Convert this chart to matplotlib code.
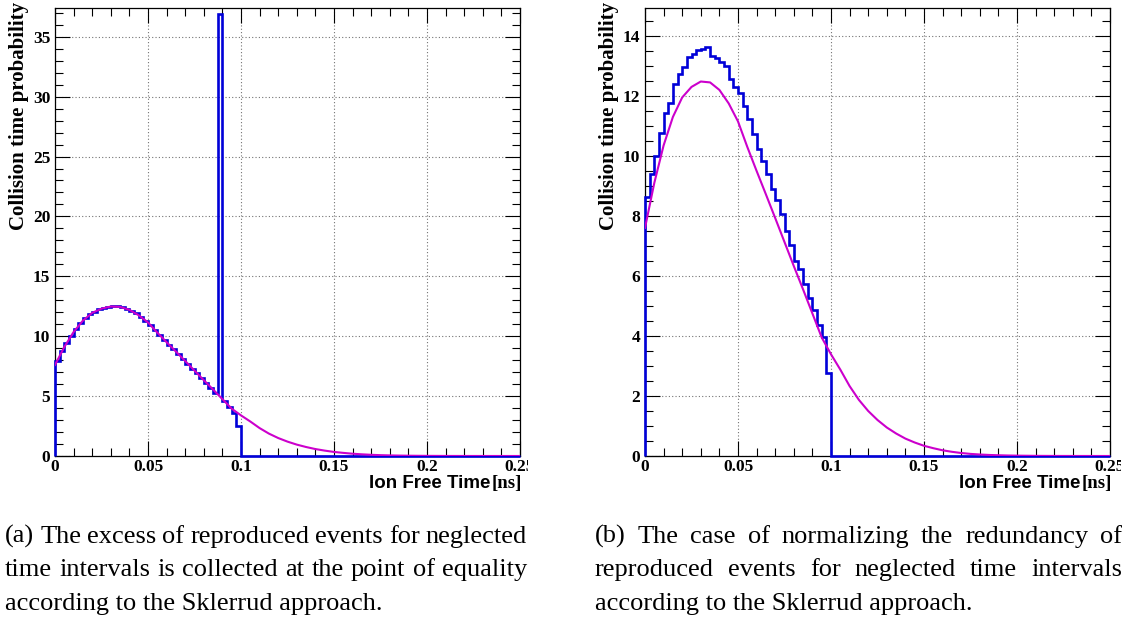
"""Collision time probability of the ion free time, two normalisation schemes side by side."""

import matplotlib

matplotlib.use("Agg")
import matplotlib.pyplot as plt
import numpy as np
from matplotlib.ticker import FixedLocator, MultipleLocator
from matplotlib.transforms import Bbox, TransformedBbox

W, H = 1128, 624
BIN_WIDTH = 0.0025  # ns
N_BINS = 100

# (a) excess collected at the equality point (spike bin at 0.0875-0.09 ns)
HIST_A = [7.95, 8.75, 9.4, 10.05, 10.6, 11.1, 11.5, 11.85, 12.05, 12.25,
          12.35, 12.45, 12.5, 12.55, 12.4, 12.3, 12.1, 11.9, 11.6, 11.3,
          10.95, 10.55, 10.1, 9.7, 9.3, 8.9, 8.5, 8.1, 7.7, 7.3,
          6.9, 6.5, 6.1, 5.7, 5.3, 36.9, 4.55, 4.1, 3.6, 2.5]
# (b) redundancy normalised over the whole range
HIST_B = [8.64, 9.40, 9.99, 10.78, 11.42, 11.76, 12.40, 12.73, 12.96, 13.31,
          13.40, 13.53, 13.55, 13.64, 13.34, 13.26, 13.14, 13.00, 12.55, 12.29,
          12.11, 11.66, 11.24, 10.74, 10.24, 9.82, 9.41, 8.91, 8.52, 8.07,
          7.49, 7.04, 6.49, 6.22, 5.72, 5.28, 4.88, 4.36, 3.97, 2.76]

# reference distribution
CURVE_T = [0.0, 0.005, 0.01, 0.015, 0.02, 0.025, 0.03, 0.035, 0.04, 0.045,
           0.05, 0.055, 0.06, 0.065, 0.07, 0.075, 0.08, 0.085, 0.09, 0.095,
           0.1, 0.105, 0.11, 0.115, 0.12, 0.125, 0.13, 0.135, 0.14, 0.145,
           0.15, 0.155, 0.16, 0.165, 0.17, 0.175, 0.18, 0.185, 0.19, 0.195,
           0.2, 0.21, 0.22, 0.23, 0.25]
CURVE_Y = [7.6, 9.1, 10.35, 11.3, 11.95, 12.3, 12.48, 12.45, 12.2, 11.75,
           11.15, 10.3, 9.5, 8.72, 7.93, 7.13, 6.33, 5.55, 4.75, 3.95,
           3.39, 2.88, 2.33, 1.87, 1.5, 1.2, 0.95, 0.75, 0.58, 0.45,
           0.34, 0.26, 0.19, 0.14, 0.1, 0.07, 0.05, 0.035, 0.025, 0.017,
           0.012, 0.005, 0.002, 0.001, 0.0]

X_TICKS = [0, 0.05, 0.1, 0.15, 0.2, 0.25]
X_TICK_LABELS = ["0", "0.05", "0.1", "0.15", "0.2", "0.25"]
Y_TICKS_A = [0, 5, 10, 15, 20, 25, 30, 35]
Y_TICKS_B = [0, 2, 4, 6, 8, 10, 12, 14]
Y_MAX_A = 37.4
Y_MAX_B = 14.93

CAPTION_A = ["(a) The excess of reproduced events for neglected",
             "time intervals is collected at the point of equality",
             "according to the Sklerrud approach."]
CAPTION_B = ["(b) The case of normalizing the redundancy of",
             "reproduced events for neglected time intervals",
             "according to the Sklerrud approach."]

SERIF = "Liberation Serif"
SANS = "Liberation Sans"
BLUE = "#0000d8"
MAGENTA = "#cc00cc"


def fx(px):
    return px / W


def fy(py):
    return 1 - py / H


def draw_panel(fig, left_px, hist, y_ticks, y_max, y_minor, clip_right_px):
    ax = fig.add_axes([fx(left_px), fy(456), fx(465), (456 - 8) / H])
    values = np.array(hist + [0.0] * (N_BINS - len(hist)))
    edges = np.arange(N_BINS + 1) * BIN_WIDTH
    ax.stairs(values, edges, baseline=0, color=BLUE, linewidth=1.9,
              zorder=3, clip_on=False)
    ax.plot(CURVE_T, CURVE_Y, color=MAGENTA, linewidth=1.5, zorder=4,
            solid_joinstyle="round")

    ax.set_xlim(0, 0.25)
    ax.set_ylim(0, y_max)
    ax.xaxis.set_major_locator(FixedLocator(X_TICKS))
    ax.set_xticklabels(X_TICK_LABELS)
    ax.xaxis.set_minor_locator(MultipleLocator(0.01))
    ax.yaxis.set_major_locator(FixedLocator(y_ticks))
    ax.set_yticklabels([str(v) for v in y_ticks])
    ax.yaxis.set_minor_locator(MultipleLocator(y_minor))
    ax.tick_params(which="both", direction="in", top=True, right=True,
                   width=0.8, color="black")
    ax.tick_params(which="major", length=10.5)
    ax.tick_params(which="minor", length=5.5)
    ax.tick_params(axis="y", pad=3.4)
    ax.tick_params(axis="x", pad=2.5)
    for lab in ax.get_xticklabels() + ax.get_yticklabels():
        lab.set_fontfamily(SERIF)
        lab.set_fontweight("bold")
        lab.set_fontsize(12.5)
    # the last tick label runs off the edge of each panel's image
    clip = TransformedBbox(Bbox([[0, 0], [fx(clip_right_px), 1]]), fig.transFigure)
    for lab in ax.get_xticklabels():
        lab.set_clip_on(True)
        lab.set_clip_box(clip)
    ax.grid(True, which="major", color="0.45", linestyle=(0, (1, 2)), linewidth=0.8)
    ax.set_axisbelow(True)
    for spine in ax.spines.values():
        spine.set_linewidth(0.9)

    fig.text(fx(left_px - 36), fy(2), "Collision time probability", rotation=90,
             ha="center", va="top", family=SERIF, weight="bold", fontsize=15)
    fig.text(fx(left_px + 435), fy(488), "Ion Free Time", ha="right",
             va="baseline", family=SANS, weight="bold", fontsize=13.5)
    fig.text(fx(left_px + 467), fy(488), "[ns]", ha="right", va="baseline",
             family=SERIF, weight="bold", fontsize=13.5)
    return ax


def caption(fig, lines, x0, x1, baselines):
    renderer = fig.canvas.get_renderer()
    style = dict(family=SERIF, fontsize=19, va="baseline", ha="left")
    for i, (line, y) in enumerate(zip(lines, baselines)):
        if i == len(lines) - 1:
            fig.text(fx(x0), fy(y), line, **style)
            continue
        words = line.split()
        texts = [fig.text(0, fy(y), word, **style) for word in words]
        widths = [t.get_window_extent(renderer).width for t in texts]
        gap = (x1 - x0 - sum(widths)) / (len(words) - 1)
        x = x0
        for text, width in zip(texts, widths):
            text.set_x(fx(x))
            x += width + gap


def main():
    fig = plt.figure(figsize=(W / 100, H / 100), dpi=100)
    draw_panel(fig, 55, HIST_A, Y_TICKS_A, Y_MAX_A, 1, 528)
    draw_panel(fig, 645, HIST_B, Y_TICKS_B, Y_MAX_B, 0.5, 1121)
    caption(fig, CAPTION_A, 5, 527, [543, 576, 610])
    caption(fig, CAPTION_B, 595, 1122, [543, 576, 610])
    fig.savefig("out.png", dpi=100)
    plt.close(fig)


if __name__ == "__main__":
    main()
